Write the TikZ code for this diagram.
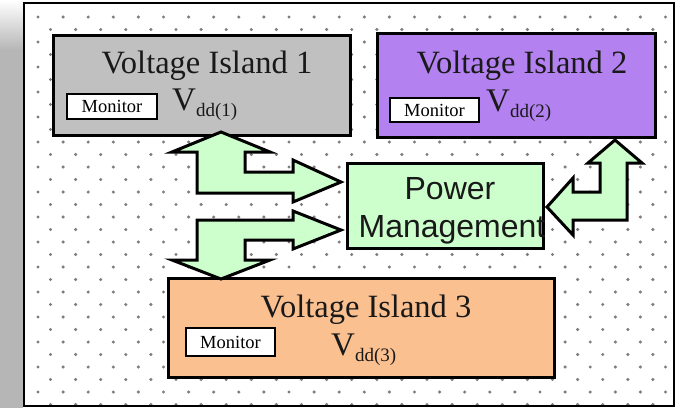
\documentclass[tikz,border=0pt]{standalone}
\usepackage{fontspec}
\setmainfont{Liberation Serif}
\newfontfamily\pmfont{Liberation Sans}
\definecolor{islone}{RGB}{192,192,192}
\definecolor{isltwo}{RGB}{180,130,240}
\definecolor{islthree}{RGB}{250,192,144}
\definecolor{pmgreen}{RGB}{204,255,204}
\definecolor{stripgray}{RGB}{182,182,182}
\definecolor{dotgray}{RGB}{125,125,125}
\begin{document}
\begin{tikzpicture}[x=1pt,y=-1pt,
  islandbox/.style={draw=black, line width=3pt, inner sep=0pt, outer sep=0pt},
  monbox/.style={draw=black, fill=white, line width=1.8pt, inner sep=0pt,
    font=\fontsize{18.5}{18.5}\selectfont},
  titletext/.style={anchor=base, inner sep=0pt, text=black!90,
    font=\fontsize{32.5}{32.5}\selectfont},
  vddtext/.style={anchor=base west, inner sep=0pt, text=black!90,
    font=\fontsize{33}{33}\selectfont},
  pmtext/.style={anchor=base, inner sep=0pt, text=black!90,
    font=\pmfont\fontsize{32}{32}\selectfont},
  blockarrow/.style={fill=pmgreen, draw=black, line width=3pt, line join=miter, miter limit=10}]
\useasboundingbox (0,0) rectangle (679,408);
\fill[white] (0,0) rectangle (679,408);
% left gray strip
\shade[top color=white, bottom color=stripgray] (0,0) rectangle (23,50);
\fill[stripgray] (0,50) rectangle (23,408);
% dot pattern
\foreach \i in {0,...,25} \foreach \j in {0,...,15}
  \fill[dotgray] ({38+25.1*\i},{17+25*\j}) circle (1.7pt);
\foreach \i in {0,...,24} \foreach \j in {0,...,15}
  \fill[dotgray] ({50.5+25.1*\i},{29.5+25*\j}) circle (1.7pt);
% frame
\draw[line width=2pt] (24,3) rectangle (674,406);
% islands
\node[islandbox, fill=islone, minimum width=297pt, minimum height=100pt] (vi1) at (201.5,85) {};
\node[islandbox, fill=isltwo, minimum width=278pt, minimum height=104pt] (vi2) at (516,85) {};
\node[islandbox, fill=islthree, minimum width=386pt, minimum height=99pt] (vi3) at (361,327.5) {};
\node[islandbox, fill=pmgreen, minimum width=196pt, minimum height=85pt] (pm) at (445,205.5) {};
% titles
\node[titletext] (t1) at (207,73) {Voltage Island 1};
\node[titletext] (t2) at (522,73) {Voltage Island 2};
\node[titletext] (t3) at (366,317) {Voltage Island 3};
% monitors
\node[monbox, minimum width=90pt, minimum height=25pt] (m1) at (112,106.5) {Monitor};
\node[monbox, minimum width=89pt, minimum height=24pt] (m2) at (434.5,110) {Monitor};
\node[monbox, minimum width=89pt, minimum height=28pt] (m3) at (230.5,342) {Monitor};
% Vdd labels
\node[vddtext] (v1) at (172,110) {V\raisebox{-6pt}{\fontsize{19}{19}\selectfont dd(1)}};
\node[vddtext] (v2) at (486,111) {V\raisebox{-6pt}{\fontsize{19}{19}\selectfont dd(2)}};
\node[vddtext] (v3) at (331,355) {V\raisebox{-6pt}{\fontsize{19}{19}\selectfont dd(3)}};
% power management text
\node[pmtext] (p1) at (450,199) {Power};
\node[pmtext] (p2) at (452,237) {Management};
% block arrows
\draw[blockarrow] (221,132) -- (270,152) -- (245,152) -- (245,172) -- (293,172) -- (293,160)
  -- (341,182) -- (293,202) -- (293,193) -- (197,193) -- (197,152) -- (172,152) -- cycle;
\draw[blockarrow] (197,220) -- (293,220) -- (293,211) -- (341,230) -- (293,249) -- (293,240)
  -- (245,240) -- (245,260) -- (270,260) -- (221,279) -- (172,260) -- (197,260) -- cycle;
\draw[blockarrow] (615,140) -- (642,163) -- (627,163) -- (627,220) -- (573,220) -- (573,235)
  -- (547,207) -- (573,178) -- (573,192) -- (600,192) -- (600,163) -- (588,163) -- cycle;
\end{tikzpicture}
\end{document}
